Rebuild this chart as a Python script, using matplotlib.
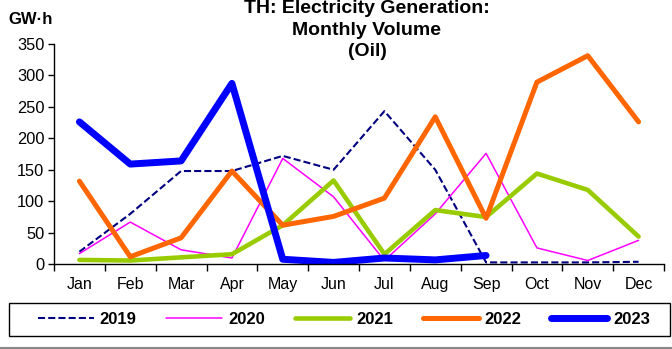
import matplotlib
matplotlib.use("Agg")
from matplotlib import pyplot as plt
from matplotlib.lines import Line2D
from matplotlib.patches import Rectangle
import numpy as np

months = ["Jan", "Feb", "Mar", "Apr", "May", "Jun", "Jul", "Aug", "Sep", "Oct", "Nov", "Dec"]

y2019 = [20, 80, 148, 148, 172, 150, 243, 150, 3, 3, 3, 4]
y2020 = [17, 67, 23, 10, 168, 107, 6, 80, 176, 26, 6, 38]
y2021 = [7, 6, 11, 16, 62, 133, 16, 86, 75, 144, 118, 44]
y2022 = [132, 12, 42, 148, 62, 76, 105, 234, 73, 289, 331, 226]
y2023 = [226, 159, 164, 287, 8, 3, 10, 7, 14]

plt.rcParams['font.family'] = ['Liberation Sans', 'DejaVu Sans']

fig = plt.figure(figsize=(6.72, 3.49), dpi=100)
ax = fig.add_axes([54/672, 1-264.3/349, 610/672, 220.6/349])

x = np.arange(1, 13)
ax.plot(x, y2019, color="#000080", lw=1.5, dashes=(3.4, 1.5), label="2019")
ax.plot(x, y2020, color="#FF00FF", lw=1.1, solid_capstyle='round', label="2020")
ax.plot(x, y2021, color="#99CC00", lw=3.3, solid_capstyle='round', label="2021")
ax.plot(x, y2022, color="#FF6600", lw=3.6, solid_capstyle='round', label="2022")
ax.plot(x[:len(y2023)], y2023, color="#0000FF", lw=5.0, solid_capstyle='round',
        solid_joinstyle='round', label="2023")

ax.set_xlim(0.5, 12.5)
ax.set_ylim(0, 350)
ax.set_yticks(np.arange(0, 351, 50))
ax.set_xticks(np.arange(0.5, 12.6, 1))
ax.set_xticklabels([])
ax.set_xticks(x, minor=True)
ax.set_xticklabels(months, minor=True)
ax.tick_params(axis='x', which='minor', length=0, pad=9, labelsize=11.5)
ax.tick_params(axis='x', which='major', length=5, direction='out', width=1)
ax.tick_params(axis='y', length=4, direction='out', width=1, labelsize=11.8, pad=3)
for s in ['top', 'right']:
    ax.spines[s].set_visible(False)
for s in ['left', 'bottom']:
    ax.spines[s].set_linewidth(1)

fig.text(367/672, 0.999, "TH: Electricity Generation:\nMonthly Volume\n(Oil)",
         ha='center', va='top', fontsize=14, fontweight='bold', linespacing=1.32)
fig.text(8/672, 1-20/349, "GW·h", ha='left', va='center', fontsize=12, fontweight='bold')

# legend box drawn separately, entries centred inside it
fig.add_artist(Rectangle((9/672, 1-336/349), 661/672, 33/349, transform=fig.transFigure,
                         facecolor='white', edgecolor='black', lw=1))
leg = fig.legend(loc='center', bbox_to_anchor=(344/672, 1-319.5/349), ncol=5,
                 frameon=False, prop={'weight': 'bold', 'size': 12}, handlelength=3.35,
                 handletextpad=0.36, columnspacing=1.78, borderpad=0)

fig.add_artist(Line2D([0, 1], [1.5/349, 1.5/349], color='#888888', lw=1.5,
                      transform=fig.transFigure))

fig.savefig("out.png", dpi=100)
